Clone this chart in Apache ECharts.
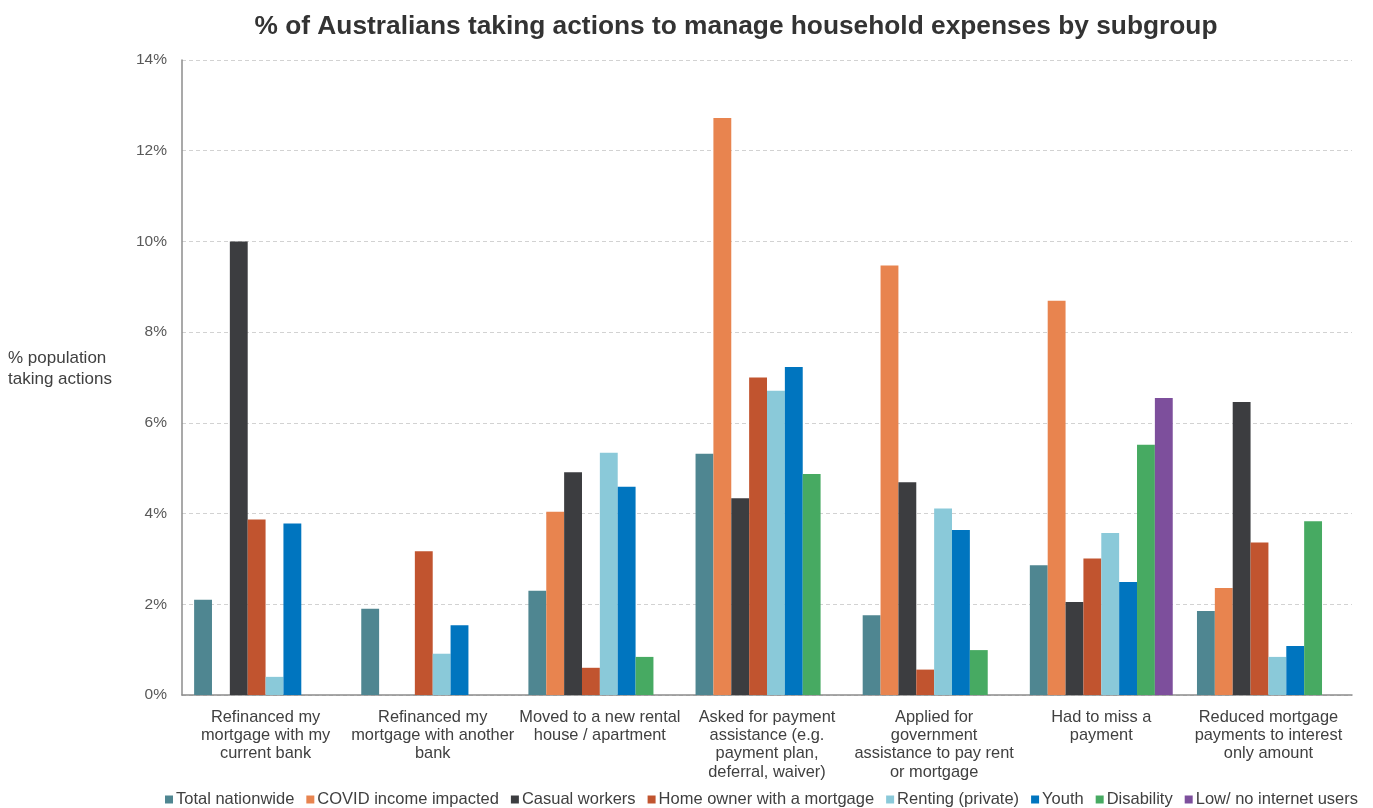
<!DOCTYPE html>
<html>
<head>
<meta charset="utf-8">
<style>
  html, body { margin: 0; padding: 0; background: #fff; }
  #chart { width: 1373px; height: 808px; }
</style>
<script src="https://cdn.jsdelivr.net/npm/echarts@6/dist/echarts.min.js"></script>
</head>
<body>
<div id="chart"></div>
<script>
// Actions taken, one per category on the x axis
const categories = [
  'Refinanced my\nmortgage with my\ncurrent bank',
  'Refinanced my\nmortgage with another\nbank',
  'Moved to a new rental\nhouse / apartment',
  'Asked for payment\nassistance (e.g.\npayment plan,\ndeferral, waiver)',
  'Applied for\ngovernment\nassistance to pay rent\nor mortgage',
  'Had to miss a\npayment',
  'Reduced mortgage\npayments to interest\nonly amount'
];

// % of each subgroup taking the action (null = not reported)
const totalNationwide = [2.1, 1.9, 2.3, 5.32, 1.76, 2.86, 1.85];
const covidImpacted   = [null, null, 4.04, 12.72, 9.47, 8.69, 2.36];
const casualWorkers   = [10.0, null, 4.91, 4.34, 4.69, 2.05, 6.46];
const homeOwnerMortgage = [3.87, 3.17, 0.6, 7.0, 0.56, 3.01, 3.36];
const rentingPrivate  = [0.4, 0.91, 5.34, 6.71, 4.11, 3.57, 0.84];
const youth           = [3.78, 1.54, 4.59, 7.23, 3.64, 2.49, 1.08];
const disability      = [null, null, 0.84, 4.87, 0.99, 5.52, 3.83];
const lowInternet     = [null, null, null, null, null, 6.55, null];

const yTicks = [0, 2, 4, 6, 8, 10, 12, 14];

const seriesDefs = [
  { name: 'Total nationwide', data: totalNationwide, color: '#4f8691' },
  { name: 'COVID income impacted', data: covidImpacted, color: '#e8844f' },
  { name: 'Casual workers', data: casualWorkers, color: '#3c3d40' },
  { name: 'Home owner with a mortgage', data: homeOwnerMortgage, color: '#c1542f' },
  { name: 'Renting (private)', data: rentingPrivate, color: '#8ac9d9' },
  { name: 'Youth', data: youth, color: '#0075bf' },
  { name: 'Disability', data: disability, color: '#47aa62' },
  { name: 'Low/ no internet users', data: lowInternet, color: '#7d4f9c' }
];

const font = '"Liberation Sans", Arial, sans-serif';
const chart = echarts.init(document.getElementById('chart'), null, { renderer: 'canvas' });

chart.setOption({
  animation: false,
  backgroundColor: '#ffffff',
  textStyle: { fontFamily: font },
  title: {
    text: '% of Australians taking actions to manage household expenses by subgroup',
    left: 731,
    textAlign: 'center',
    top: 9,
    textStyle: { fontFamily: font, fontSize: 26.3, fontWeight: 'bold', color: '#333333' }
  },
  graphic: [{
    type: 'text',
    left: 8,
    top: 348,
    style: {
      text: '% population\ntaking actions',
      font: '17px ' + font,
      fill: '#404040',
      lineHeight: 21
    }
  }],
  legend: {
    top: 786,
    left: 160,
    width: 1400,
    itemWidth: 8,
    itemHeight: 8,
    itemGap: 12,
    icon: 'rect',
    textStyle: { fontFamily: font, fontSize: 16.5, color: '#404040', padding: [0, 0, 0, -2] },
    data: seriesDefs.map(s => s.name)
  },
  grid: { left: 182, right: 21, top: 60, bottom: 113, containLabel: false },
  xAxis: {
    type: 'category',
    data: categories,
    axisLine: { lineStyle: { color: '#8c8c8c', width: 1.5 } },
    axisTick: { show: false },
    axisLabel: {
      interval: 0,
      margin: 13,
      fontFamily: font,
      fontSize: 16.4,
      lineHeight: 18.3,
      color: '#404040'
    }
  },
  yAxis: {
    type: 'value',
    min: yTicks[0],
    max: yTicks[yTicks.length - 1],
    interval: 2,
    axisLine: { show: true, lineStyle: { color: '#8c8c8c', width: 1.5 } },
    axisTick: { show: false },
    axisLabel: {
      margin: 15,
      fontFamily: font,
      fontSize: 15.5,
      color: '#595959',
      formatter: v => v + '%'
    },
    splitLine: { lineStyle: { color: '#d2d2d2', type: [4, 3], width: 1 } }
  },
  series: seriesDefs.map(s => ({
    name: s.name,
    type: 'bar',
    data: s.data,
    barGap: '0%',
    barCategoryGap: '14.5%',
    itemStyle: { color: s.color }
  }))
});
</script>
</body>
</html>
